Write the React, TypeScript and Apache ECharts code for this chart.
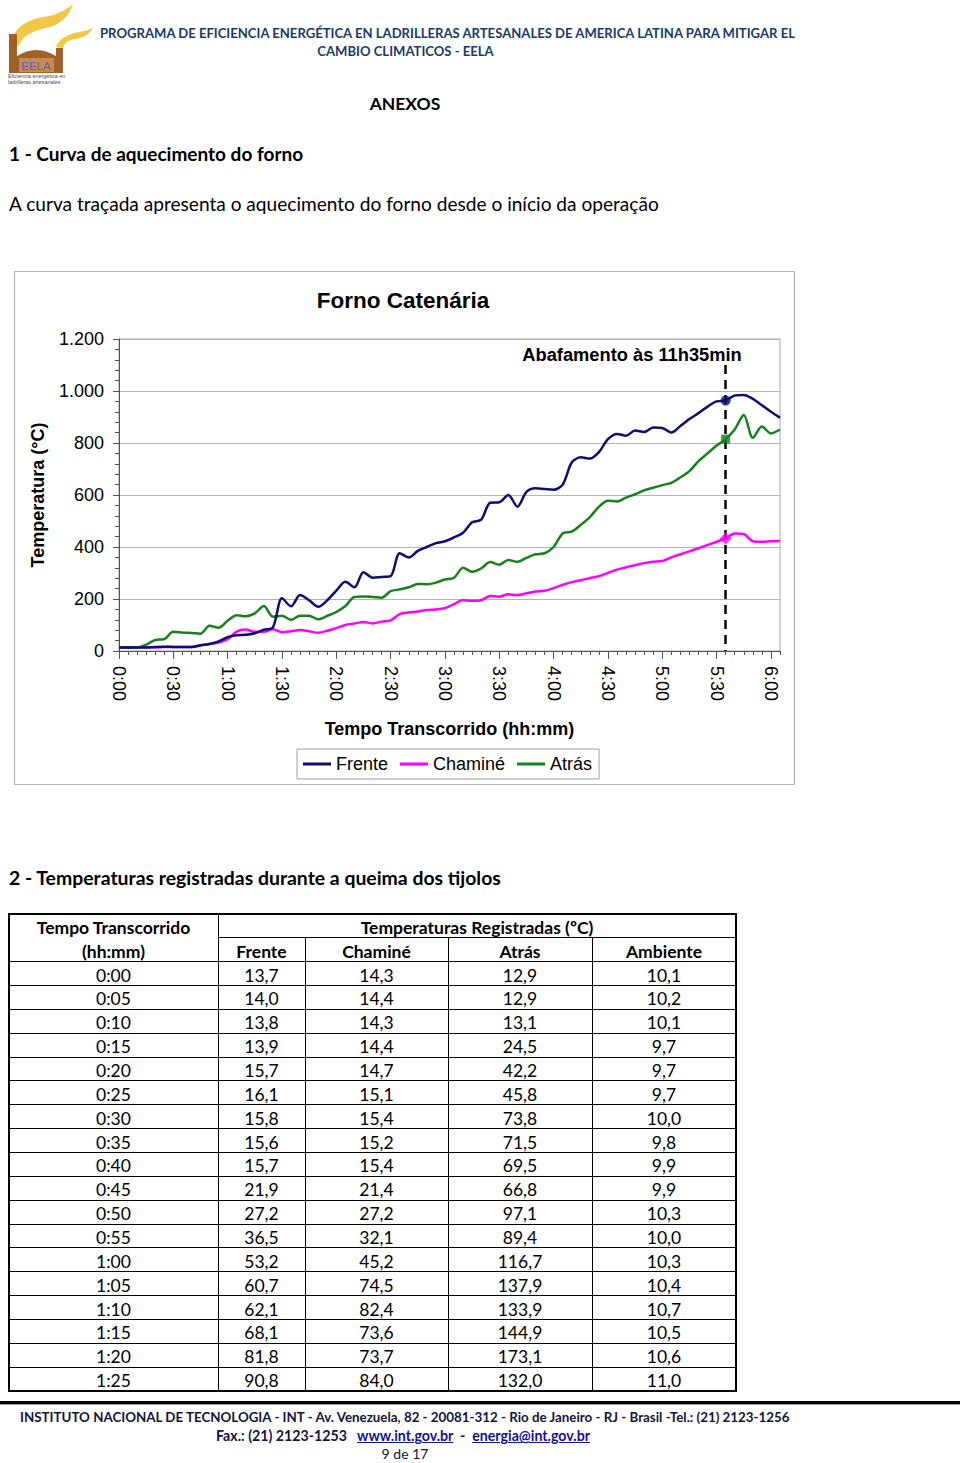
import React, { useEffect, useRef } from "react";
import * as echarts from "echarts";

// ---------- DATA ----------
const categories = [
  "0:00","0:05","0:10","0:15","0:20","0:25","0:30","0:35","0:40","0:45","0:50","0:55",
  "1:00","1:05","1:10","1:15","1:20","1:25","1:30","1:35","1:40","1:45","1:50","1:55",
  "2:00","2:05","2:10","2:15","2:20","2:25","2:30","2:35","2:40","2:45","2:50","2:55",
  "3:00","3:05","3:10","3:15","3:20","3:25","3:30","3:35","3:40","3:45","3:50","3:55",
  "4:00","4:05","4:10","4:15","4:20","4:25","4:30","4:35","4:40","4:45","4:50","4:55",
  "5:00","5:05","5:10","5:15","5:20","5:25","5:30","5:35","5:40","5:45","5:50","5:55",
  "6:00","6:05",
];

const frente = [
  13.7, 14.0, 13.8, 13.9, 15.7, 16.1, 15.8, 15.6, 15.7, 21.9, 27.2, 36.5,
  53.2, 60.7, 62.1, 68.1, 81.8, 90.8, 203, 172, 215, 195, 170, 195,
  232, 266, 245, 303, 282, 285, 288, 376, 360, 385, 400, 415,
  422, 437, 455, 495, 505, 570, 572, 600, 555, 612, 626, 623,
  620, 640, 725, 745, 740, 765, 815, 835, 828, 848, 842, 860,
  858, 840, 865, 892, 915, 940, 960, 963, 983, 985, 970, 945,
  920, 897,
];

const chamine = [
  14.3, 14.4, 14.3, 14.4, 14.7, 15.1, 15.4, 15.2, 15.4, 21.4, 27.2, 32.1,
  45.2, 74.5, 82.4, 73.6, 73.7, 84.0, 72, 76, 81, 76, 70, 78,
  88, 100, 106, 112, 106, 113, 118, 142, 148, 152, 158, 160,
  165, 180, 196, 193, 195, 212, 209, 218, 215, 222, 229, 232,
  242, 255, 265, 272, 280, 288, 300, 313, 322, 330, 338, 343,
  346, 360, 372, 383, 395, 408, 420, 433, 452, 450, 422, 420,
  422, 423,
];

const atras = [
  12.9, 12.9, 13.1, 24.5, 42.2, 45.8, 73.8, 71.5, 69.5, 66.8, 97.1, 89.4,
  116.7, 137.9, 133.9, 144.9, 173.1, 132.0, 136, 120, 136, 136, 122, 135,
  150, 173, 208, 210, 208, 205, 230, 237, 245, 258, 257, 263,
  275, 282, 320, 305, 318, 342, 332, 350, 343, 358, 372, 376,
  400, 452, 459, 485, 515, 555, 578, 575, 590, 603, 618, 628,
  638, 647, 668, 692, 730, 760, 790, 815, 852, 908, 820, 863,
  837, 852,
];

const ambiente = [10.1, 10.2, 10.1, 9.7, 9.7, 9.7, 10.0, 9.8, 9.9, 9.9, 10.3, 10.0, 10.3, 10.4, 10.7, 10.5, 10.6, 11.0];

const yTickLabels = ["0", "200", "400", "600", "800", "1.000", "1.200"];
const seriesNames = ["Frente", "Chaminé", "Atrás"];
const tableHeads = ["Frente", "Chaminé", "Atrás", "Ambiente"];
const markerIndex = 67; // 5:35 -> 11h35min
const markerTop = 1100;
const tableRows = 18;

// ---------- STYLE ----------
const ARIAL = "'Liberation Sans', Arial, sans-serif";
const DOC = "Lato, 'Noto Sans', sans-serif";
const NAVY = "#0d0d73";
const MAGENTA = "#ff00ff";
const GREEN = "#17821b";
const HEAD_BLUE = "#1b3a6b";

const fmt = (v: number) => v.toFixed(1).replace(".", ",");

function Txt(props: any) {
  const { x, y, size, bold, color = "#000", align = "left", children, extra } = props;
  const h = Math.round(size * 1.4);
  const style: any = {
    position: "absolute",
    top: y - h / 2,
    height: h,
    lineHeight: h + "px",
    fontSize: size,
    fontWeight: bold ? 700 : 400,
    color,
    fontFamily: DOC,
    whiteSpace: "nowrap",
    ...(extra || {}),
  };
  if (align === "center") {
    style.left = x - 500;
    style.width = 1000;
    style.textAlign = "center";
  } else {
    style.left = x;
  }
  return <div style={style}>{children}</div>;
}

function Logo() {
  return (
    <svg width={100} height={90} style={{ position: "absolute", left: 0, top: 0 }}>
      <path d="M12,44 C13,28 26,20 44,17 C57,15 66,10 73,4 C69,17 60,25 46,28 C32,31 22,36 19,46 Z" fill="#f3c746" />
      <path d="M56,47 C59,38 69,34 79,32 C85,31 89,30 93,28 C89,35 83,38 75,39 C68,40 64,43 63,48 Z" fill="#f3c746" />
      <path d="M9,73 L9,34 L17,34 L17,56 Q36,44 56,56 L56,48 L63,48 L63,73 Z" fill="#a0602a" />
      <rect x={19} y={58} width={35} height={14} fill="#c98a4e" />
      <text x={36} y={70} textAnchor="middle" fontFamily={ARIAL} fontSize={11.5} fill="#5a5ad0">EELA</text>
      <text x={8} y={78} fontFamily={ARIAL} fontSize={5.4} fill="#4a4a6a">Eficiencia energética en</text>
      <text x={8} y={84} fontFamily={ARIAL} fontSize={5.4} fill="#4a4a6a">ladrilleras artesanales</text>
    </svg>
  );
}

function Chart() {
  const ref = useRef<HTMLDivElement>(null);
  useEffect(() => {
    if (!ref.current) return;
    const chart = echarts.init(ref.current, null, { renderer: "svg" });
    const colors = [NAVY, MAGENTA, GREEN];
    const datas = [frente, chamine, atras];
    const markerSymbols = ["circle", "diamond", "rect"];
    const markerSizes = [10, 12, 9];
    const series: any[] = seriesNames.map((name, k) => ({
      name,
      type: "line",
      data: datas[k],
      smooth: 0.3,
      showSymbol: false,
      symbol: "none",
      lineStyle: { color: colors[k], width: 2.5 },
      itemStyle: { color: colors[k] },
      z: 3 + (k === 0 ? 2 : k === 2 ? 1 : 0),
    }));
    series[0].markLine = {
      silent: true,
      symbol: "none",
      z: 2,
      label: { show: false },
      lineStyle: { color: "#000", width: 2.5, type: [9, 6] },
      data: [[{ coord: [categories[markerIndex], markerTop] }, { coord: [categories[markerIndex], 0] }]],
    };
    seriesNames.forEach((name, k) => {
      series.push({
        name: name + " (abafamento)",
        type: "scatter",
        data: [[categories[markerIndex], datas[k][markerIndex]]],
        symbol: markerSymbols[k],
        symbolSize: markerSizes[k],
        itemStyle: { color: colors[k] },
        z: 10,
        silent: true,
      });
    });
    const option: any = {
      animation: false,
      textStyle: { fontFamily: ARIAL },
      title: {
        text: "Forno Catenária",
        left: 398,
        top: 24,
        textAlign: "center",
        textStyle: { fontSize: 22.5, fontWeight: "bold", color: "#000", fontFamily: ARIAL },
      },
      graphic: [
        {
          type: "rect",
          silent: true,
          z: -10,
          shape: { x: 14.5, y: 11.5, width: 780, height: 513 },
          style: { fill: "#fff", stroke: "#b3b3b3", lineWidth: 1.2 },
        },
        {
          type: "text",
          x: 632,
          y: 94,
          silent: true,
          style: {
            text: "Abafamento às 11h35min",
            fontSize: 18.3,
            fontWeight: "bold",
            fontFamily: ARIAL,
            fill: "#000",
            textAlign: "center",
            textVerticalAlign: "middle",
          },
        },
      ],
      legend: {
        data: seriesNames,
        left: 297,
        top: 489,
        padding: [6, 7, 6, 6],
        itemGap: 12,
        itemWidth: 28,
        itemHeight: 3,
        icon: "rect",
        borderColor: "#a0a0a0",
        borderWidth: 1,
        textStyle: { fontSize: 18, color: "#000", fontFamily: ARIAL },
      },
      grid: {
        left: 119,
        top: 79,
        width: 661,
        height: 312,
        show: true,
        borderColor: "#a6a6a6",
        borderWidth: 1,
        backgroundColor: "#fff",
      },
      xAxis: [
        {
          type: "category",
          data: categories,
          boundaryGap: false,
          axisLine: { lineStyle: { color: "#555", width: 1 } },
          axisTick: { interval: 0, length: 4, lineStyle: { color: "#555" } },
          axisLabel: { interval: 5, rotate: -90, margin: 15, fontSize: 18, color: "#000", fontFamily: ARIAL },
          splitLine: { show: false },
          name: "Tempo Transcorrido (hh:mm)",
          nameLocation: "middle",
          nameGap: 69,
          nameTextStyle: { fontSize: 18, fontWeight: "bold", color: "#000", fontFamily: ARIAL },
        },
        {
          type: "category",
          data: categories,
          boundaryGap: false,
          position: "bottom",
          axisLine: { show: false },
          axisTick: { interval: 5, length: 8, lineStyle: { color: "#555" } },
          axisLabel: { show: false },
          splitLine: { show: false },
        },
      ],
      yAxis: {
        type: "value",
        min: 0,
        max: 1200,
        interval: 200,
        axisLine: { show: true, lineStyle: { color: "#555" } },
        axisTick: { show: true, length: 6, lineStyle: { color: "#555" } },
        minorTick: { show: true, splitNumber: 5, length: 4, lineStyle: { color: "#555" } },
        splitLine: { lineStyle: { color: "#b3b3b3", width: 1 } },
        axisLabel: {
          margin: 15,
          fontSize: 18,
          color: "#000",
          fontFamily: ARIAL,
          formatter: (v: number) => yTickLabels[Math.round(v / 200)] ?? String(v),
        },
        name: "Temperatura (°C)",
        nameLocation: "middle",
        nameGap: 72,
        nameRotate: 90,
        nameTextStyle: { fontSize: 18, fontWeight: "bold", color: "#000", fontFamily: ARIAL },
      },
      series,
    };
    chart.setOption(option);
    return () => chart.dispose();
  }, []);
  return <div ref={ref} style={{ position: "absolute", left: 0, top: 260, width: 960, height: 540 }} />;
}

function DataTable() {
  const top = 914;
  const rowH = 23.85;
  const colX = [9, 218, 305, 448, 592, 736];
  const nRows = tableRows + 2;
  const bottom = top + nRows * rowH;
  const els: any[] = [];
  const hLine = (key: string, x1: number, x2: number, y: number, w: number) =>
    els.push(<div key={key} style={{ position: "absolute", left: x1, top: Math.round(y - w / 2), width: x2 - x1, height: w, background: "#000" }} />);
  const vLine = (key: string, x: number, y1: number, y2: number, w: number) =>
    els.push(<div key={key} style={{ position: "absolute", left: Math.round(x - w / 2), top: Math.round(y1), width: w, height: Math.round(y2 - y1), background: "#000" }} />);
  hLine("h0", colX[0] - 1, colX[5] + 1, top, 2);
  hLine("h1", colX[1], colX[5], top + rowH, 1);
  for (let k = 2; k < nRows; k++) hLine("h" + k, colX[0], colX[5], top + k * rowH, 1);
  hLine("hb", colX[0] - 1, colX[5] + 1, bottom, 2);
  vLine("v0", colX[0], top, bottom, 2);
  vLine("v1", colX[1], top, bottom, 1);
  vLine("v2", colX[2], top + rowH, bottom, 1);
  vLine("v3", colX[3], top + rowH, bottom, 1);
  vLine("v4", colX[4], top + rowH, bottom, 1);
  vLine("v5", colX[5], top, bottom, 2);

  const cell = (key: string, x1: number, x2: number, cy: number, text: string, bold?: boolean) =>
    els.push(
      <div
        key={key}
        style={{
          position: "absolute",
          left: x1,
          width: x2 - x1,
          top: cy - 12,
          height: 24,
          lineHeight: "24px",
          textAlign: "center",
          fontFamily: DOC,
          fontSize: 17.5,
          fontWeight: bold ? 700 : 400,
          color: "#000",
          whiteSpace: "nowrap",
        }}
      >
        {text}
      </div>
    );
  const cy = (r: number) => top + rowH * r + rowH / 2 + 2;
  cell("t1", colX[0], colX[1], cy(0), "Tempo Transcorrido", true);
  cell("t2", colX[0], colX[1], cy(1), "(hh:mm)", true);
  cell("t3", colX[1], colX[5], cy(0), "Temperaturas Registradas (ºC)", true);
  tableHeads.forEach((h, j) => cell("th" + j, colX[j + 1], colX[j + 2], cy(1), h, true));
  for (let i = 0; i < tableRows; i++) {
    const vals = [categories[i], fmt(frente[i]), fmt(chamine[i]), fmt(atras[i]), fmt(ambiente[i])];
    vals.forEach((v, j) => cell("c" + i + "_" + j, colX[j], colX[j + 1], cy(i + 2), v));
  }
  return <>{els}</>;
}

export default function App() {
  return (
    <div style={{ position: "absolute", left: 0, top: 0, width: 960, height: 1463, background: "#fff", overflow: "hidden" }}>
      <Logo />
      <Txt x={447.5} y={33} size={13.1} bold color={HEAD_BLUE} align="center">
        PROGRAMA DE EFICIENCIA ENERGÉTICA EN LADRILLERAS ARTESANALES DE AMERICA LATINA PARA MITIGAR EL
      </Txt>
      <Txt x={405.5} y={51} size={13.1} bold color={HEAD_BLUE} align="center">
        CAMBIO CLIMATICOS - EELA
      </Txt>
      <Txt x={405} y={103} size={17.5} bold align="center">ANEXOS</Txt>
      <Txt x={9} y={153} size={19} bold>1 - Curva de aquecimento do forno</Txt>
      <Txt x={9} y={203} size={19.1}>A curva traçada apresenta o aquecimento do forno desde o início da operação</Txt>
      <Chart />
      <Txt x={9} y={877} size={19.4} bold>2 - Temperaturas registradas durante a queima dos tijolos</Txt>
      <DataTable />
      <div style={{ position: "absolute", left: 0, top: 1401, width: 960, height: 3, background: "#000" }} />
      <div style={{ position: "absolute", left: 0, top: 1404, width: 960, height: 1, background: "#999" }} />
      <Txt x={20} y={1417} size={13.35} bold color="#14143c">
        INSTITUTO NACIONAL DE TECNOLOGIA - INT - Av. Venezuela, 82 - 20081-312 - Rio de Janeiro - RJ - Brasil -Tel.: (21) 2123-1256
      </Txt>
      <Txt x={403} y={1436} size={14.2} bold color="#14143c" align="center">
        <span>Fax.: (21) 2123-1253&nbsp;&nbsp;&nbsp;</span>
        <span style={{ color: "#1010a0", textDecoration: "underline" }}>www.int.gov.br</span>
        <span>&nbsp;&nbsp;-&nbsp;&nbsp;</span>
        <span style={{ color: "#1010a0", textDecoration: "underline" }}>energia@int.gov.br</span>
      </Txt>
      <Txt x={405} y={1454} size={14} color="#14143c" align="center">9 de 17</Txt>
    </div>
  );
}
